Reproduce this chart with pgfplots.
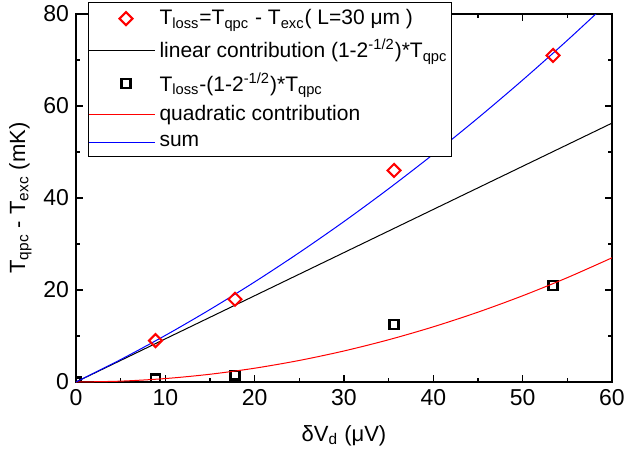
\documentclass[border=0pt]{standalone}
\usepackage{pgfplots}
\pgfplotsset{compat=1.18}
\usepackage{fontspec}
\setmainfont{Liberation Sans}
\pgfplotsset{
  linelegend/.style={legend image code/.code={\draw[##1,mark=none] (0pt,0pt) -- (33pt,0pt);}},
  marklegend/.style={legend image code/.code={\path[draw=none,fill=none,mark=none] (0pt,0pt) -- (33pt,0pt); \draw[##1] plot coordinates {(18.5pt,0pt)};}},
}
\begin{document}
\begin{tikzpicture}
\begin{axis}[
  scale only axis,
  width=268pt, height=184pt,
  xmin=0, xmax=60, ymin=0, ymax=80,
  xtick={0,10,...,60}, ytick={0,20,...,80},
  minor x tick num=1, minor y tick num=1,
  tick align=inside,
  major tick length=3.5pt, minor tick length=2pt,
  every tick/.style={line width=0.6pt, black},
  axis line style={line width=0.8pt},
  /pgf/number format/assume math mode=true,
  tick label style={font=\fontsize{11.5}{13}\selectfont},
  label style={font=\fontsize{11}{13}\selectfont},
  xlabel={δV\textsubscript{d} (μV)},
  ylabel={T\textsubscript{qpc} - T\textsubscript{exc} (mK)},
  xlabel style={yshift=-3pt},
  ylabel style={yshift=-1pt},
  legend cell align=left,
  legend style={at={(axis description cs:0,1)}, anchor=north west, xshift=6pt, yshift=6pt,
    font=\fontsize{10.5}{12}\selectfont, draw=black, line width=0.5pt,
    inner xsep=0pt, inner ysep=1.5pt, row sep=1.8pt, fill=white},
]
\addplot[only marks, mark=square, mark size=2.3pt, red, mark options={line width=1pt, solid, rotate=45}, marklegend]
  coordinates {(8.9,9) (17.8,18) (35.6,46) (53.4,71)};
\addlegendentry{T\textsubscript{loss}=T\textsubscript{qpc} - T\textsubscript{exc}( L=30 μm )}
\addplot[black, line width=0.5pt, mark=none, linelegend] coordinates {(0,0) (60,56.28)};
\addlegendentry{linear contribution (1-2\textsuperscript{-1/2})*T\textsubscript{qpc}}
\addplot[only marks, mark=square, mark size=2.2pt, black, mark options={line width=1.2pt}, clip marker paths=true, marklegend]
  coordinates {(0,0) (8.9,0.7) (17.8,1.5) (35.6,12.5) (53.4,21)};
\addlegendentry{T\textsubscript{loss}-(1-2\textsuperscript{-1/2})*T\textsubscript{qpc}}
\addplot[red, line width=0.5pt, mark=none, smooth, linelegend] coordinates {
  (0,0) (5,0.1875) (10,0.75) (15,1.6875) (20,3) (25,4.6875) (30,6.75)
  (35,9.1875) (40,12) (45,15.1875) (50,18.75) (55,22.6875) (60,27)};
\addlegendentry{quadratic contribution}
\addplot[blue, line width=0.5pt, mark=none, smooth, linelegend] coordinates {
  (0,0) (5,4.88) (10,10.13) (15,15.76) (20,21.76) (25,28.14) (30,34.89)
  (35,42.02) (40,49.52) (45,57.40) (50,65.65) (55,74.28) (60,83.28)};
\addlegendentry{sum}
\end{axis}
\pgfresetboundingbox
\path (-38pt,-37pt) rectangle (274pt,191pt);
\end{tikzpicture}
\end{document}
